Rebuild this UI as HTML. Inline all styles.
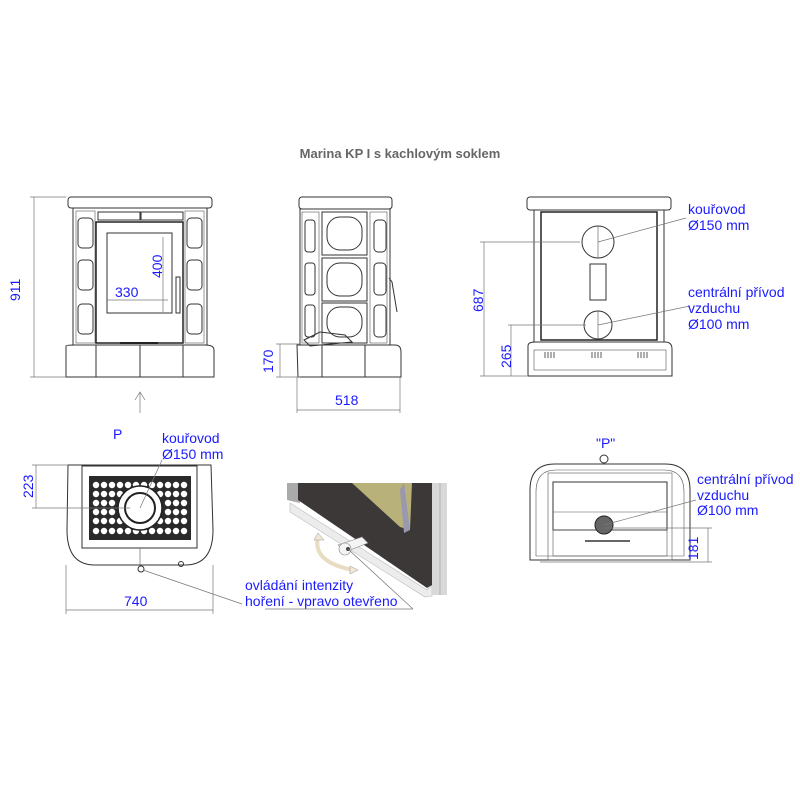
<!DOCTYPE html>
<html><head><meta charset="utf-8"><style>
html,body{margin:0;padding:0;background:#fff}
svg{display:block}
text{font-family:"Liberation Sans",sans-serif}
.b{fill:#1a1aff;font-size:14px}
.s{fill:none;stroke:#333;stroke-width:1}
.t{fill:none;stroke:#555;stroke-width:0.6}
.d{stroke:#777;stroke-width:0.7;fill:none}
</style></head><body>
<svg width="800" height="800" viewBox="0 0 800 800" xmlns="http://www.w3.org/2000/svg">
<rect width="800" height="800" fill="#fff"/>
<text x="400" y="158" text-anchor="middle" font-size="13" font-weight="bold" fill="#666">Marina KP I s kachlovým soklem</text>

<!-- PHOTO DETAIL -->
<g>
<polygon points="287,483 300,483 300,503 287,500" fill="#aaa"/>
<polygon points="290,503 427,590 432,585 432,596 425,597 290,512" fill="#ececec" stroke="#bbb" stroke-width="0.6"/>
<polygon points="298,483 432,483 432,585 427,588 298,500" fill="#3c3838"/>
<polygon points="352,483 412,483 410,530 400,527" fill="#b8b27a"/>
<path d="M404 483 L410 530 L404 533 L400 490 Z" fill="#9a97b0"/>
<rect x="432" y="483" width="15" height="112" fill="#d8d8d8"/>
<line x1="440" y1="483" x2="440" y2="595" stroke="#999" stroke-width="0.6"/>
<path d="M338 545 L362 537 L368 543 L345 552 Z" fill="#f4f4f4" stroke="#888" stroke-width="0.6"/>
<circle cx="345" cy="549" r="6" fill="#f4f4f4" stroke="#888" stroke-width="0.6"/>
<circle cx="348" cy="549" r="2" fill="#444"/>
<path d="M318 537 Q312 562 353 570" fill="none" stroke="#e8dcc2" stroke-width="4"/>
<path d="M314 540 L318 533 L324 540 Z" fill="#f1e8d5" stroke="#999" stroke-width="0.5"/>
<path d="M350 566 L358 570 L350 574 Z" fill="#f1e8d5" stroke="#999" stroke-width="0.5"/>
<line x1="348" y1="549" x2="413" y2="609" class="d"/>
</g>

<!-- FRONT VIEW -->
<g>
<rect x="68" y="197" width="144" height="11" rx="3" class="s"/>
<rect x="73" y="208" width="134" height="137" class="s"/>
<rect x="76" y="211" width="19" height="132" class="t"/>
<rect x="185" y="211" width="19" height="132" class="t"/>
<rect x="78" y="218" width="15" height="30" rx="4" class="s"/>
<rect x="78" y="260" width="15" height="30" rx="4" class="s"/>
<rect x="78" y="304" width="15" height="30" rx="4" class="s"/>
<rect x="187" y="218" width="15" height="30" rx="4" class="s"/>
<rect x="187" y="260" width="15" height="30" rx="4" class="s"/>
<rect x="187" y="304" width="15" height="30" rx="4" class="s"/>
<rect x="98" y="212" width="42" height="8" class="s"/>
<rect x="141" y="212" width="42" height="8" class="s"/>
<rect x="96" y="222" width="87" height="121" fill="none" stroke="#222" stroke-width="1.5"/>
<rect x="107" y="233" width="65" height="80" class="s"/>
<rect x="176" y="277" width="4" height="36" class="s"/>
<line x1="120" y1="343" x2="158" y2="343" stroke="#222" stroke-width="2"/>
<path d="M66 346 Q66 345 75 345 L205 345 Q214 345 214 350 L214 377 L66 377 Z" class="s"/>
<line x1="96" y1="345" x2="96" y2="377" class="s"/><line x1="140" y1="345" x2="140" y2="377" class="s"/><line x1="183" y1="345" x2="183" y2="377" class="s"/>
<line x1="163" y1="237" x2="163" y2="312" class="d"/>
<line x1="107" y1="300" x2="168" y2="300" class="d"/>
<text class="b" x="0" y="0" transform="translate(162,278) rotate(-90)">400</text>
<text class="b" x="115" y="297">330</text>
<line x1="34" y1="197" x2="34" y2="377" class="d"/>
<line x1="30" y1="197" x2="66" y2="197" class="d"/><line x1="30" y1="377" x2="66" y2="377" class="d"/>
<text class="b" x="0" y="0" transform="translate(20,301) rotate(-90)">911</text>
<line x1="140" y1="392" x2="140" y2="413" class="d"/>
<path d="M135 400 L140 392 L145 400" class="d"/>
<text class="b" x="113" y="439">P</text>
</g>

<!-- SIDE VIEW -->
<g>
<rect x="299" y="197" width="93" height="12" rx="3" class="s"/>
<rect x="300" y="209" width="90" height="136" class="s"/>
<rect x="302" y="212" width="17" height="131" class="t"/>
<rect x="370" y="212" width="17" height="131" class="t"/>
<rect x="305" y="220" width="10" height="32" rx="3" class="s"/>
<rect x="305" y="263" width="10" height="32" rx="3" class="s"/>
<rect x="305" y="305" width="10" height="32" rx="3" class="s"/>
<rect x="374" y="220" width="12" height="32" rx="4" class="s"/>
<rect x="374" y="263" width="12" height="32" rx="4" class="s"/>
<rect x="374" y="305" width="12" height="32" rx="4" class="s"/>
<rect x="322" y="212" width="45" height="43" class="s"/>
<rect x="322" y="258" width="45" height="43" class="s"/>
<rect x="322" y="303" width="45" height="40" class="s"/>
<rect x="327" y="217" width="35" height="33" rx="13" class="s"/>
<rect x="327" y="263" width="35" height="33" rx="13" class="s"/>
<rect x="327" y="307" width="35" height="30" rx="13" class="s"/>
<path d="M389 278 L392 282 L397 312" class="s"/>
<path d="M304 340 L320 332 L345 335 L352 342 L310 346 Z" class="s"/>
<path d="M297 345 L395 345 Q401 345 401 352 L401 377 L298 377 Z" class="s"/>
<line x1="322" y1="345" x2="322" y2="377" class="s"/><line x1="365" y1="345" x2="365" y2="377" class="s"/>
<line x1="280" y1="344" x2="280" y2="377" class="d"/>
<line x1="276" y1="344" x2="300" y2="344" class="d"/><line x1="276" y1="377" x2="300" y2="377" class="d"/>
<text class="b" x="0" y="0" transform="translate(273,373) rotate(-90)">170</text>
<line x1="297" y1="377" x2="297" y2="413" class="d"/><line x1="400" y1="377" x2="400" y2="413" class="d"/>
<line x1="297" y1="410" x2="400" y2="410" class="d"/>
<text class="b" x="335" y="405">518</text>
</g>

<!-- BACK VIEW -->
<g>
<rect x="527" y="197" width="144" height="13" rx="3" class="s"/>
<rect x="534" y="210" width="130" height="132" class="s"/>
<rect x="541" y="212" width="116" height="128" fill="none" stroke="#222" stroke-width="1.5"/>
<circle cx="598" cy="242" r="16" class="s"/>
<line x1="598" y1="226" x2="598" y2="258" class="t"/>
<circle cx="598" cy="325" r="14" class="s"/>
<line x1="598" y1="311" x2="598" y2="339" class="t"/>
<rect x="590" y="264" width="16" height="36" class="s"/>
<path d="M528 346 Q528 342 535 342 L665 342 Q672 342 672 349 L672 376 L528 376 Z" class="s"/>
<rect x="534" y="350" width="132" height="20" class="t"/>
<g stroke="#333" stroke-width="0.8"><line x1="545" y1="352" x2="545" y2="358"/><line x1="548" y1="352" x2="548" y2="358"/><line x1="551" y1="352" x2="551" y2="358"/><line x1="554" y1="352" x2="554" y2="358"/><line x1="592" y1="352" x2="592" y2="358"/><line x1="595" y1="352" x2="595" y2="358"/><line x1="598" y1="352" x2="598" y2="358"/><line x1="601" y1="352" x2="601" y2="358"/><line x1="638" y1="352" x2="638" y2="358"/><line x1="641" y1="352" x2="641" y2="358"/><line x1="644" y1="352" x2="644" y2="358"/><line x1="647" y1="352" x2="647" y2="358"/></g>
<line x1="598" y1="242" x2="686" y2="218" class="d"/>
<line x1="598" y1="325" x2="690" y2="306" class="d"/>
<text class="b" x="688" y="214">kouřovod</text>
<text class="b" x="688" y="230">Ø150 mm</text>
<text class="b" x="688" y="297">centrální přívod</text>
<text class="b" x="688" y="313">vzduchu</text>
<text class="b" x="688" y="329">Ø100 mm</text>
<line x1="480" y1="242" x2="580" y2="242" class="d"/><line x1="480" y1="376" x2="527" y2="376" class="d"/>
<line x1="484" y1="242" x2="484" y2="376" class="d"/>
<line x1="508" y1="325" x2="586" y2="325" class="d"/>
<line x1="511" y1="325" x2="511" y2="376" class="d"/>
<text class="b" x="0" y="0" transform="translate(483,312) rotate(-90)">687</text>
<text class="b" x="0" y="0" transform="translate(511,368) rotate(-90)">265</text>
</g>

<!-- TOP VIEW -->
<g>
<path d="M68 465 L211 465 L213 530 Q213 565 185 565 L95 565 Q67 565 67 530 Z" class="s"/>
<rect x="82" y="466" width="115" height="82" class="s"/>
<rect x="89" y="476" width="102" height="64" fill="#2a2a2a"/>
<g fill="#fff">
<circle cx="96" cy="485" r="3.2"/><circle cx="104" cy="485" r="3.2"/><circle cx="112" cy="485" r="3.2"/><circle cx="120" cy="485" r="3.2"/><circle cx="128" cy="485" r="3.2"/><circle cx="136" cy="485" r="3.2"/><circle cx="144" cy="485" r="3.2"/><circle cx="152" cy="485" r="3.2"/><circle cx="160" cy="485" r="3.2"/><circle cx="168" cy="485" r="3.2"/><circle cx="176" cy="485" r="3.2"/><circle cx="184" cy="485" r="3.2"/>
<circle cx="96" cy="494" r="3.2"/><circle cx="104" cy="494" r="3.2"/><circle cx="112" cy="494" r="3.2"/><circle cx="120" cy="494" r="3.2"/><circle cx="160" cy="494" r="3.2"/><circle cx="168" cy="494" r="3.2"/><circle cx="176" cy="494" r="3.2"/><circle cx="184" cy="494" r="3.2"/>
<circle cx="96" cy="503" r="3.2"/><circle cx="104" cy="503" r="3.2"/><circle cx="112" cy="503" r="3.2"/><circle cx="168" cy="503" r="3.2"/><circle cx="176" cy="503" r="3.2"/><circle cx="184" cy="503" r="3.2"/>
<circle cx="96" cy="512" r="3.2"/><circle cx="104" cy="512" r="3.2"/><circle cx="112" cy="512" r="3.2"/><circle cx="168" cy="512" r="3.2"/><circle cx="176" cy="512" r="3.2"/><circle cx="184" cy="512" r="3.2"/>
<circle cx="96" cy="521" r="3.2"/><circle cx="104" cy="521" r="3.2"/><circle cx="112" cy="521" r="3.2"/><circle cx="120" cy="521" r="3.2"/><circle cx="160" cy="521" r="3.2"/><circle cx="168" cy="521" r="3.2"/><circle cx="176" cy="521" r="3.2"/><circle cx="184" cy="521" r="3.2"/>
<circle cx="96" cy="531" r="3.2"/><circle cx="104" cy="531" r="3.2"/><circle cx="112" cy="531" r="3.2"/><circle cx="120" cy="531" r="3.2"/><circle cx="128" cy="531" r="3.2"/><circle cx="136" cy="531" r="3.2"/><circle cx="144" cy="531" r="3.2"/><circle cx="152" cy="531" r="3.2"/><circle cx="160" cy="531" r="3.2"/><circle cx="168" cy="531" r="3.2"/><circle cx="176" cy="531" r="3.2"/><circle cx="184" cy="531" r="3.2"/>
</g>
<circle cx="140" cy="508" r="22" fill="#fff" stroke="#222" stroke-width="1.5"/>
<circle cx="140" cy="508" r="15" fill="#fff" stroke="#222" stroke-width="2"/>
<line x1="140" y1="508" x2="162" y2="460" class="d"/>
<line x1="140" y1="548" x2="140" y2="565" class="t"/>
<circle cx="141" cy="569" r="3" class="s"/>
<circle cx="181" cy="564" r="2.5" class="s"/>
<line x1="36" y1="465" x2="36" y2="508" class="d"/>
<line x1="32" y1="465" x2="68" y2="465" class="d"/><line x1="32" y1="508" x2="130" y2="508" class="d"/>
<text class="b" x="0" y="0" transform="translate(33,498) rotate(-90)">223</text>
<line x1="66" y1="565" x2="66" y2="614" class="d"/><line x1="213" y1="565" x2="213" y2="614" class="d"/>
<line x1="66" y1="610" x2="213" y2="610" class="d"/>
<text class="b" x="124" y="606">740</text>
<text class="b" x="162" y="443">kouřovod</text>
<text class="b" x="162" y="459">Ø150 mm</text>
<line x1="143" y1="570" x2="242" y2="604" class="d"/>
<text class="b" x="245" y="590">ovládání intenzity</text>
<text class="b" x="245" y="606">hoření - vpravo otevřeno</text>
<line x1="265" y1="609" x2="413" y2="609" class="d"/>
</g>

<!-- BOTTOM VIEW "P" -->
<g>
<text class="b" x="596" y="448">"P"</text>
<circle cx="604" cy="459" r="4" class="s"/>
<path d="M530 490 Q530 464 555 464 L665 464 Q690 464 690 490 L690 560 L530 560 Z" class="s"/>
<path d="M536 492 Q536 470 556 470 L664 470 Q684 470 684 492 L684 556 L536 556 Z" class="t"/>
<rect x="548" y="473" width="124" height="87" class="t"/>
<rect x="553" y="482" width="114" height="48" class="s"/>
<rect x="553" y="530" width="114" height="26" class="t"/>
<line x1="553" y1="512" x2="667" y2="512" class="t"/>
<circle cx="604" cy="525" r="9" fill="#666" stroke="#222"/>
<line x1="585" y1="541" x2="630" y2="541" stroke="#333" stroke-width="1.5"/>
<line x1="604" y1="525" x2="696" y2="500" class="d"/>
<line x1="604" y1="528" x2="712" y2="528" class="d"/>
<line x1="540" y1="562" x2="712" y2="562" class="d"/>
<line x1="708" y1="528" x2="708" y2="562" class="d"/>
<text class="b" x="0" y="0" transform="translate(698,560) rotate(-90)">181</text>
<text class="b" x="697" y="484">centrální přívod</text>
<text class="b" x="697" y="500">vzduchu</text>
<text class="b" x="697" y="515">Ø100 mm</text>
</g>
</svg>
</body></html>
